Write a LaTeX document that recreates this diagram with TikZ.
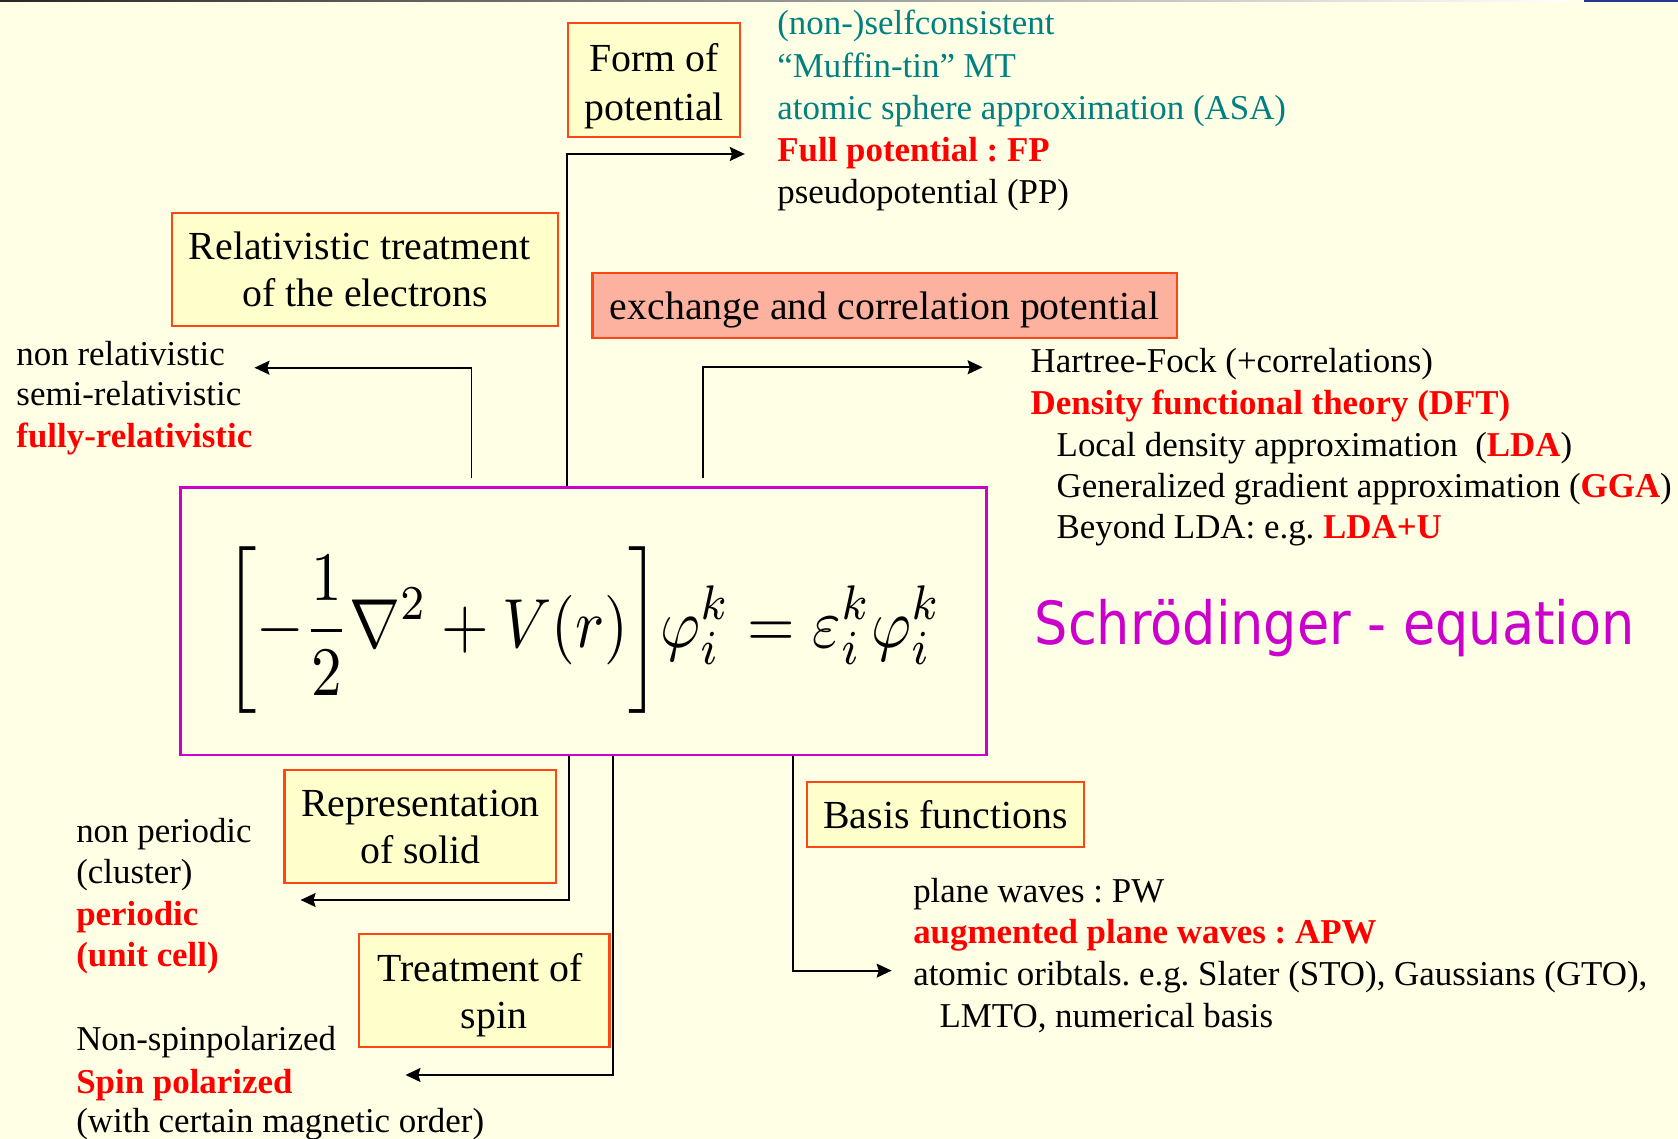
\documentclass[tikz,border=0pt]{standalone}
\usepackage{amsmath}
\usepackage{graphicx}
\usepackage{fontspec}
\setmainfont{Liberation Serif}
\newfontfamily\dejavu{DejaVu Sans}
\usetikzlibrary{arrows.meta}
\frenchspacing
\definecolor{bgc}{RGB}{255,255,229}
\definecolor{boxfill}{RGB}{255,255,204}
\definecolor{boxred}{RGB}{255,70,20}
\definecolor{xcfill}{RGB}{252,178,158}
\definecolor{magc}{RGB}{204,0,204}
\definecolor{tealc}{RGB}{0,128,128}
\definecolor{redc}{RGB}{255,0,0}
\definecolor{topblue}{RGB}{31,58,138}
\tikzset{
  ybox/.style={draw=boxred, fill=boxfill, line width=1pt, inner sep=0pt, align=center,
    font=\fontsize{18.6}{22}\selectfont},
  onebox/.style={ybox, text height=14pt, text depth=0.6pt},
  arr/.style={line width=0.9pt, -{Stealth[length=7pt,width=6.5pt,inset=1pt]}},
  li/.style={anchor=base west, inner sep=0pt, font=\fontsize{16.3}{19.4}\selectfont},
  tl/.style={li, text=tealc},
  rd/.style={li, text=redc, font=\bfseries\fontsize{16.3}{19.4}\selectfont}
}
\newcommand{\rb}[1]{{\color{redc}\bfseries #1}}
\begin{document}
\begin{tikzpicture}[x=0.5pt,y=-0.5pt]
% background and page edge
\fill[bgc] (0,0) rectangle (1568,1064);
\useasboundingbox (0,0) rectangle (1568,1064);
\shade[left color=black!85, right color=white] (0,0) rectangle (1466,1.8);
\fill[topblue] (1480,0) rectangle (1568,1.9);

% central equation box
\node[draw=magc, line width=1.4pt, minimum width=376.6pt, minimum height=125pt, inner sep=0pt] (sbox) at (545.4,580.5) {};
\node[inner sep=0pt, anchor=north west] (eqn) at (209,510.8)
  {\resizebox*{335pt}{77.9pt}{$\displaystyle\left[-\frac{1}{2}\nabla^{2}+V(r)\right]\!\varphi_i^{k}=\varepsilon_i^{k}\varphi_i^{k}$}};
\node[anchor=base west, inner sep=0pt, text=magc, font=\dejavu\fontsize{27.8}{30}\selectfont] (schr) at (966.5,602.7)
  {\scalebox{0.882}[1]{Schrödinger - equation}};

% boxes
\node[ybox, minimum width=80.4pt, minimum height=53pt, font=\fontsize{18.6}{22.5}\selectfont] (form) at (611.4,74.75) {\rule{0pt}{15pt}Form of\\\smash{potential}};
\node[ybox, minimum width=180.2pt, minimum height=52.6pt] (rel) at (341.2,252) {Relativistic treatment\hspace*{5.2pt}\\of the electrons};
\node[onebox, fill=xcfill, minimum width=272.9pt, minimum height=30.6pt] (xc) at (826.6,285.5) {exchange and correlation potential};
\node[ybox, minimum width=127pt, minimum height=53pt] (repr) at (392.9,772.5) {Representation\\of solid};
\node[ybox, minimum width=117pt, minimum height=52.6pt] (spin) at (452.5,925.4) {\rule{0pt}{13.5pt}Treatment of\hspace*{3.7pt}\\\hspace*{9.1pt}\smash{spin}};
\node[onebox, minimum width=129.5pt, minimum height=30.4pt] (basis) at (883.5,760.8) {Basis functions};

% form of potential list
\node[tl] (f1) at (726,32.7) {(non-)selfconsistent};
\node[tl] (f2) at (726,72.7) {“Muffin-tin” MT};
\node[tl] (f3) at (726,111.7) {atomic sphere approximation (ASA)};
\node[rd] (f4) at (726,150.7) {Full potential : FP};
\node[li] (f5) at (726,189.7) {pseudopotential (PP)};

% relativistic list
\node[li] (r1) at (15,341.5) {non relativistic};
\node[li] (r2) at (15,378.9) {semi-relativistic};
\node[rd] (r3) at (15,417.8) {fully-relativistic};

% exchange-correlation list
\node[li] (x1) at (962.7,348.4) {Hartree-Fock (+correlations)};
\node[rd] (x2) at (962.7,387.6) {Density functional theory (DFT)};
\node[li] (x3) at (987,426.2) {Local density approximation\hspace{0.5em}(\rb{LDA})};
\node[li] (x4) at (987,464.5) {Generalized gradient approximation (\rb{GGA})};
\node[li] (x5) at (987,503.5) {Beyond LDA: e.g. \rb{LDA+U}};

% representation list
\node[li] (p1) at (70.9,787) {non periodic};
\node[li] (p2) at (70.9,825.9) {(cluster)};
\node[rd] (p3) at (70.9,864.8) {periodic};
\node[rd] (p4) at (70.9,902.8) {(unit cell)};

% spin list
\node[li] (s1) at (70.9,981.6) {Non-spinpolarized};
\node[rd] (s2) at (70.9,1022) {Spin polarized};
\node[li] (s3) at (70.9,1058.5) {(with certain magnetic order)};

% basis list
\node[li] (b1) at (853,843) {plane waves : PW};
\node[rd] (b2) at (853,882) {augmented plane waves : APW};
\node[li] (b3) at (853,921) {atomic oribtals. e.g. Slater (STO), Gaussians (GTO),};
\node[li] (b4) at (877.6,959.8) {LMTO, numerical basis};

% connectors
\coordinate (fpT) at (696,143.9);
\coordinate (relS) at (440.6,447);
\coordinate (relT) at (237.8,343.6);
\coordinate (xcS) at (656.5,447);
\coordinate (xcT) at (918.2,343.2);
\coordinate (reprT) at (280.9,841);
\coordinate (spinT) at (378.9,1004.5);
\coordinate (basisT) at (833.2,907);

\draw[arr] (sbox.north -| form.west) |- (fpT);
\draw[arr] (relS) |- (relT);
\draw[arr] (xcS) |- (xcT);
\draw[arr] ([xshift=-7pt]sbox.south) |- (reprT);
\draw[arr] ([xshift=13.6pt]sbox.south) |- (spinT);
\draw[arr] ([xshift=97.6pt]sbox.south) |- (basisT);
\end{tikzpicture}
\end{document}
